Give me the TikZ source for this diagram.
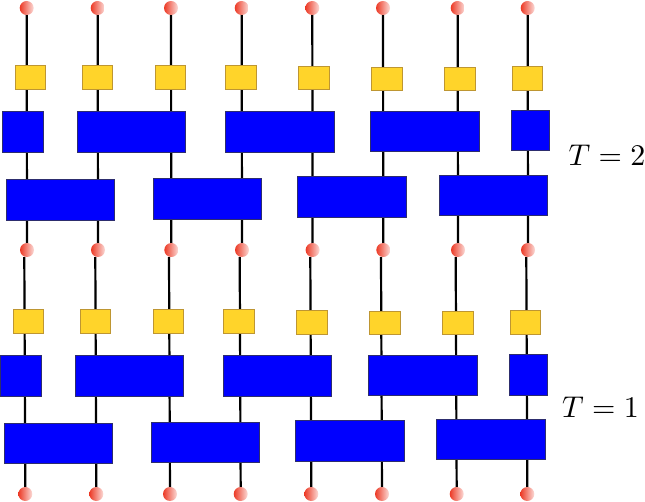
\documentclass[tikz,border=0pt]{standalone}
\usetikzlibrary{backgrounds}
\definecolor{ballred}{RGB}{236,58,38}
\definecolor{yelfill}{RGB}{255,212,42}
\definecolor{yeldraw}{RGB}{190,150,50}
\definecolor{bludraw}{RGB}{45,45,110}
\begin{document}
\begin{tikzpicture}[x=1pt,y=-1pt,
  wire/.style={line width=2.2pt,black},
  ball/.style={circle,inner sep=0pt,minimum size=14pt,left color=ballred,right color=ballred!18!white,draw=none},
  yel/.style={rectangle,inner sep=0pt,minimum width=30.5pt,minimum height=23.5pt,fill=yelfill,draw=yeldraw,line width=0.9pt},
  blu/.style={rectangle,inner sep=0pt,minimum height=40.5pt,fill=blue,draw=bludraw,line width=0.9pt},
  wide/.style={blu,minimum width=108.5pt},
  lbl/.style={inner sep=0pt,scale=3,anchor=base east}]
\useasboundingbox (0,0) rectangle (645,502);

% circles and wire ends
\foreach \i/\x/\xb in {1/26.7/24.3, 2/97.7/95.3, 3/171/169, 4/241.7/239.7, 5/312.3/310.3, 6/383/381, 7/457.7/455.7, 8/527.7/526.3} {
  \node[ball] (t\i) at (\x,8) {};
  \node[ball] (m\i) at (\x+0.3,250) {};
  \node[ball] (b\i) at (\xb+1,494) {};
  \coordinate (s\i) at (\xb,257);
}

% yellow squares, top block
\foreach \i/\x/\y in {1/30.5/77.5, 2/97.5/77.5, 3/170.5/77.7, 4/241/77.5, 5/313.8/78.2, 6/386.8/78.8, 7/460/78.8, 8/527.3/78.7} {
  \node[yel] (yt\i) at (\x,\y) {};
}
% yellow squares, bottom block
\foreach \i/\x/\y in {1/28.3/321.3, 2/95.3/321.5, 3/168.5/321.7, 4/238.8/321.5, 5/311.8/322.3, 6/385/322.8, 7/458/322.8, 8/525.3/322.7} {
  \node[yel] (yb\i) at (\x,\y) {};
}

% blue boxes, top block (T=2)
\node[blu,minimum width=41.4pt] (ta1) at (23,132) {};
\node[wide] (ta2) at (131.5,132) {};
\node[wide] (ta3) at (279.85,132) {};
\node[wide] (ta4) at (425,131.5) {};
\node[blu,minimum width=38.3pt] (ta5) at (530.15,130.65) {};
\node[wide] (tb1) at (60.5,200) {};
\node[wide] (tb2) at (207.65,198.85) {};
\node[wide] (tb3) at (351.85,197) {};
\node[wide] (tb4) at (493.35,195.5) {};

% blue boxes, bottom block (T=1)
\node[blu,minimum width=41.3pt] (ba1) at (20.65,375.85) {};
\node[wide] (ba2) at (129.5,375.85) {};
\node[wide] (ba3) at (277.65,376) {};
\node[wide] (ba4) at (423.15,375.35) {};
\node[blu,minimum width=38.7pt] (ba5) at (528.35,374.8) {};
\node[wide] (bb1) at (58.5,443.65) {};
\node[wide] (bb2) at (205.65,442.65) {};
\node[wide] (bb3) at (350,440.8) {};
\node[wide] (bb4) at (491.15,439.65) {};

% wires
\begin{scope}[on background layer]
  \foreach \i in {1,...,8} {
    \draw[wire] (t\i.center) -- (m\i.center);
    \draw[wire] (s\i) -- (b\i.center);
  }
\end{scope}

% labels
\node[lbl] (L2) at (646,165.7) {$T=2$};
\node[lbl] (L1) at (639.5,417.7) {$T=1$};
\end{tikzpicture}
\end{document}
